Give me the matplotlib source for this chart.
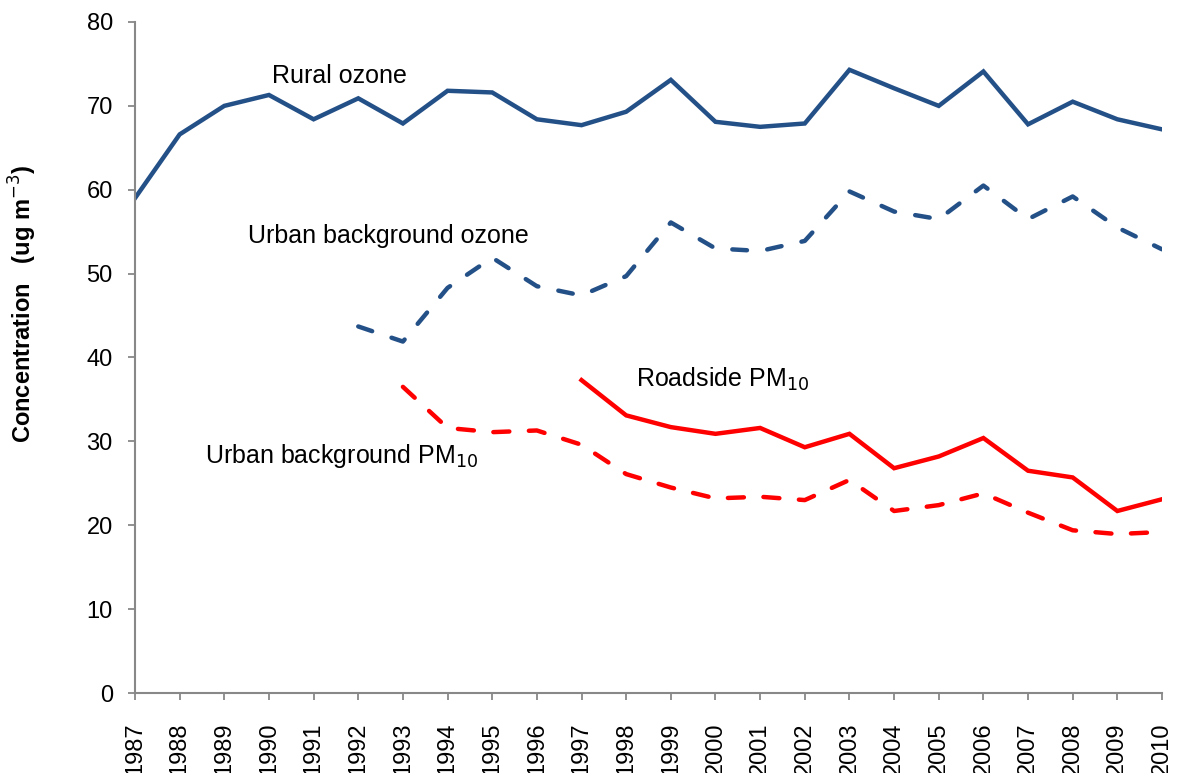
import matplotlib
matplotlib.use("Agg")
import matplotlib.pyplot as plt
import numpy as np

plt.rcParams['font.family'] = ['Liberation Sans', 'DejaVu Sans']

years = list(range(1987, 2011))

rural_ozone_years = list(range(1987, 2011))
rural_ozone = [59.0, 66.6, 70.0, 71.3, 68.4, 70.9, 67.9, 71.8, 71.6, 68.4, 67.7,
               69.3, 73.1, 68.1, 67.5, 67.9, 74.3, 72.1, 70.0, 74.1, 67.8, 70.5,
               68.4, 67.2]

urban_ozone_years = list(range(1992, 2011))
urban_ozone = [43.7, 41.9, 48.3, 51.9, 48.5, 47.4, 49.7, 56.1, 53.0, 52.7, 53.9,
               59.8, 57.4, 56.5, 60.5, 56.5, 59.2, 55.5, 52.9]

roadside_pm_years = list(range(1997, 2011))
roadside_pm = [37.3, 33.1, 31.7, 30.9, 31.6, 29.3, 30.9, 26.8, 28.2, 30.4, 26.5,
               25.7, 21.7, 23.1]

urban_pm_years = list(range(1993, 2011))
urban_pm = [36.5, 31.6, 31.1, 31.3, 29.6, 26.1, 24.5, 23.2, 23.4, 23.0, 25.4,
            21.7, 22.4, 23.8, 21.5, 19.4, 18.95, 19.2]

navy = '#245088'
red = '#FF0000'

W, H = 1182, 773
fig = plt.figure(figsize=(W / 100, H / 100), dpi=100)
ax = fig.add_axes([135 / W, 1 - 693 / H, (1162 - 135) / W, (693 - 22) / H])

lw = 3.2
ax.plot(rural_ozone_years, rural_ozone, color=navy, lw=lw, solid_joinstyle='miter')
ax.plot(urban_ozone_years, urban_ozone, color=navy, lw=lw, dashes=(3.3, 4.6),
        dash_capstyle='round', dash_joinstyle='round')
ax.plot(roadside_pm_years, roadside_pm, color=red, lw=lw, solid_joinstyle='miter')
ax.plot(urban_pm_years, urban_pm, color=red, lw=lw, dashes=(3.6, 4.4),
        dash_capstyle='round', dash_joinstyle='round')

ax.set_xlim(1987, 2010)
ax.set_ylim(0, 80)
ax.set_xticks(years)
ax.set_xticklabels([str(y) for y in years], rotation=90, fontsize=17)
ax.set_yticks(range(0, 81, 10))
ax.tick_params(axis='y', labelsize=17, length=5, width=1.3, color='#888888', pad=11)
ax.tick_params(axis='x', length=5, width=1.3, color='#888888', pad=16)
for s in ['top', 'right']:
    ax.spines[s].set_visible(False)
for s in ['left', 'bottom']:
    ax.spines[s].set_color('#888888')
    ax.spines[s].set_linewidth(1.5)

fig.text(23 / W, 1 - 304 / H, 'Concentration   (ug m$^{-3}$)', fontsize=17,
         fontweight='bold', rotation=90, ha='center', va='center')

ax.text(1990.06, 72.76, 'Rural ozone', fontsize=18, ha='left', va='baseline')
ax.text(1989.52, 53.69, 'Urban background ozone', fontsize=18, ha='left', va='baseline')
ax.text(1998.22, 36.45, 'Roadside PM$_{10}$', fontsize=18, ha='left', va='baseline')
ax.text(1988.57, 27.46, 'Urban background PM$_{10}$', fontsize=18, ha='left', va='baseline')

fig.savefig('out.png', dpi=100)
